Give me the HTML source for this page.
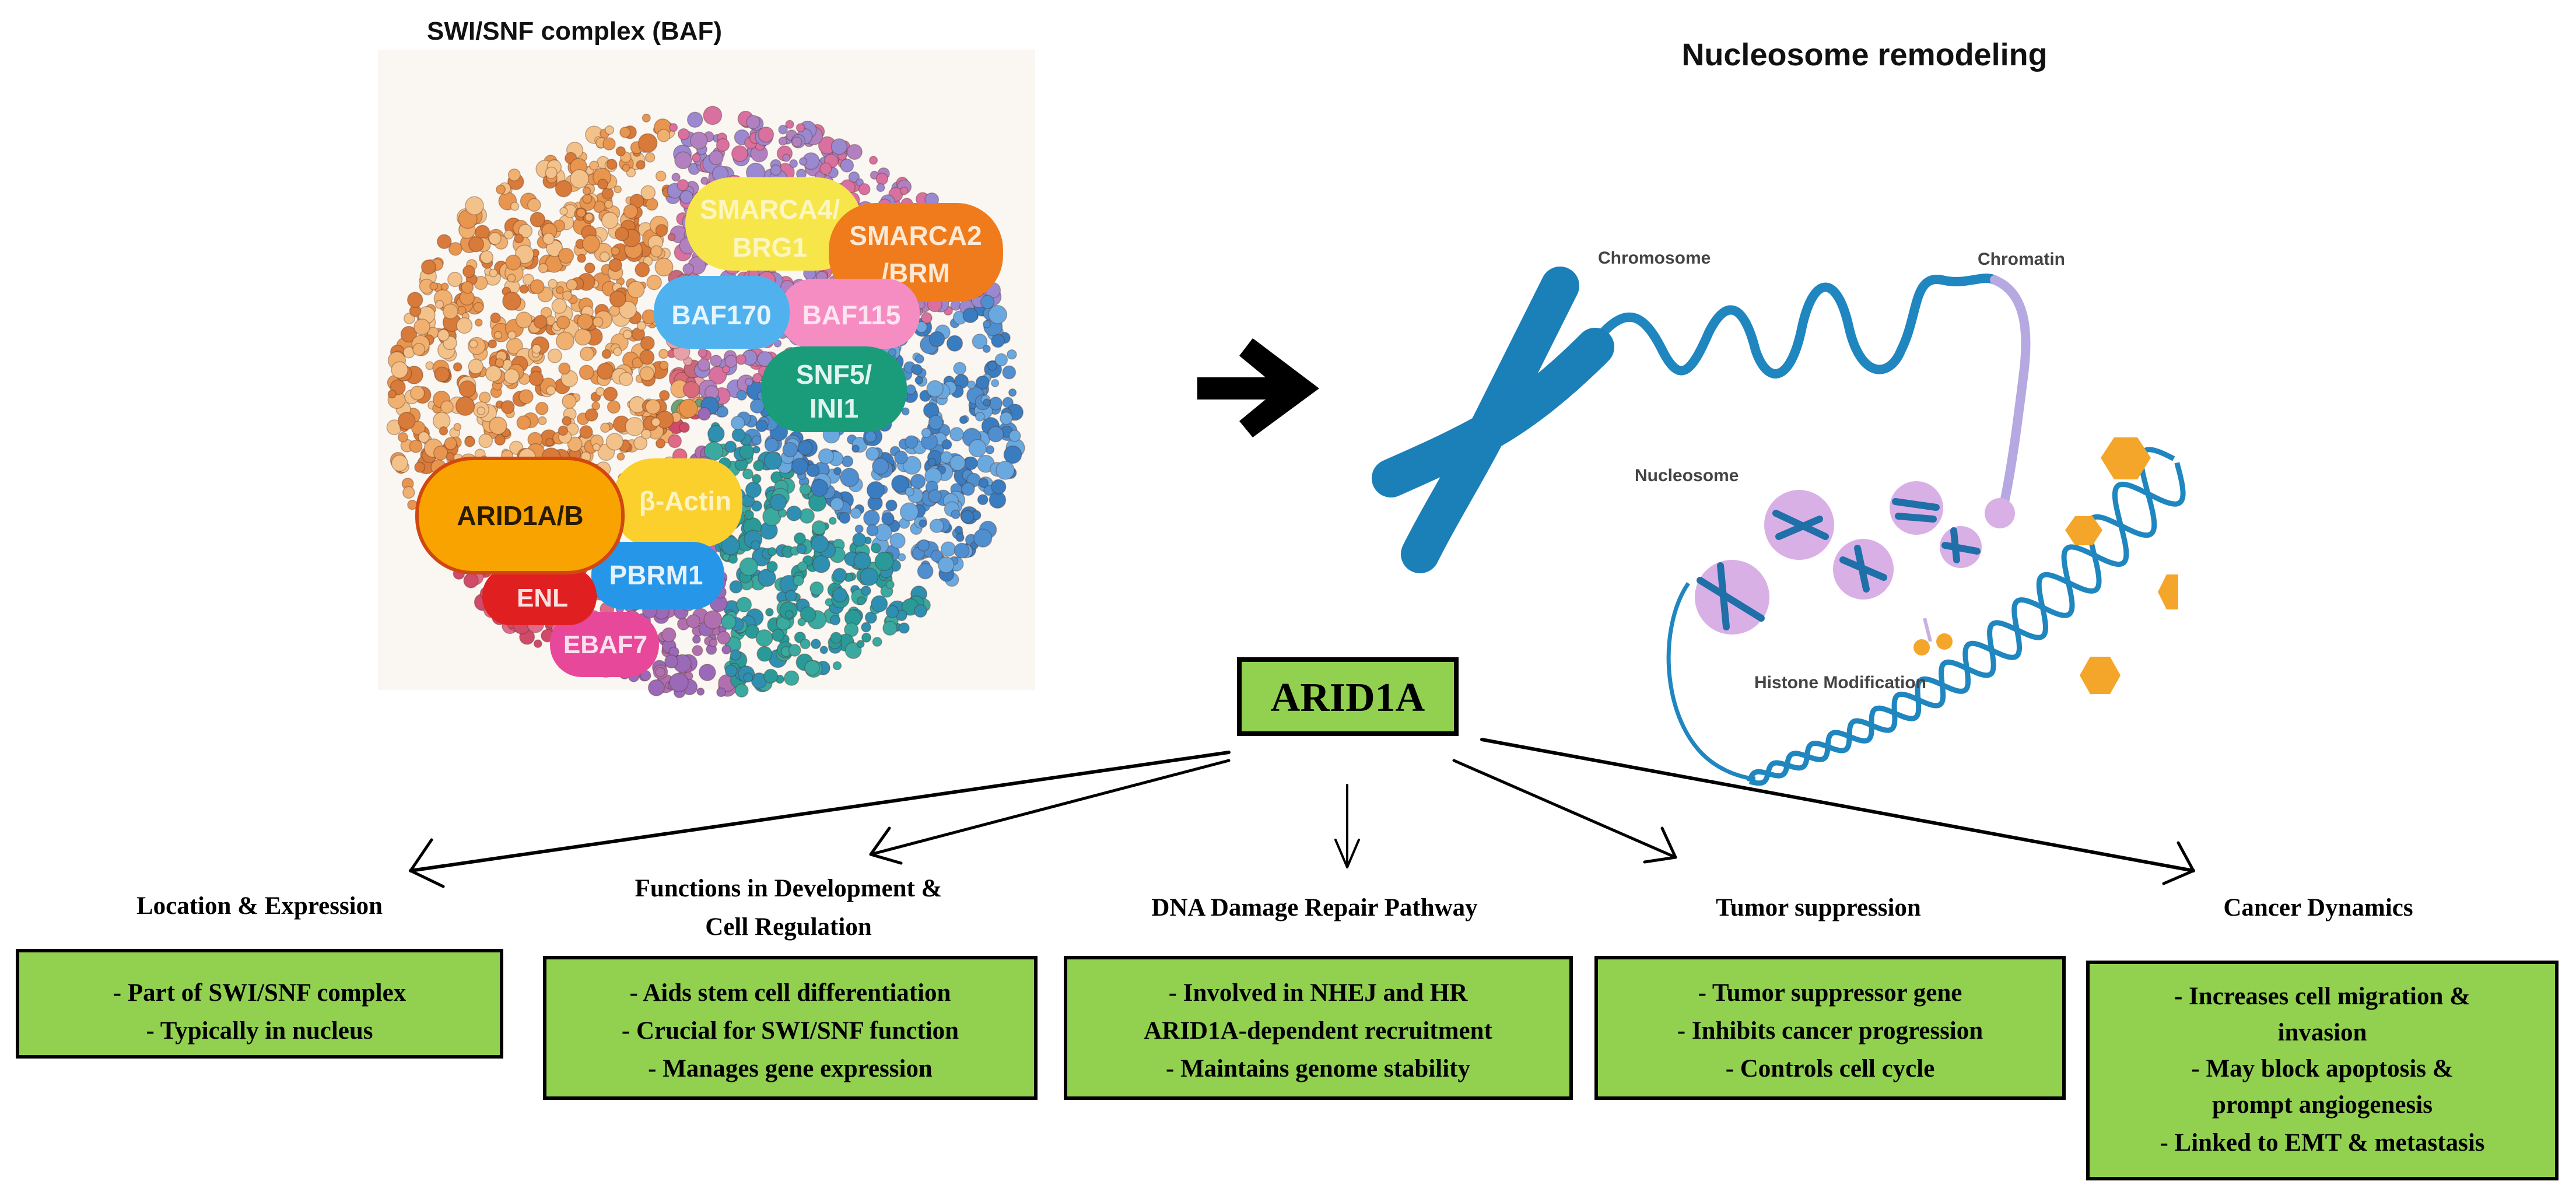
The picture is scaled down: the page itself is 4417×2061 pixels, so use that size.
<!DOCTYPE html>
<html><head><meta charset="utf-8">
<style>
html,body{margin:0;padding:0;background:#fff;}
body{width:4417px;height:2061px;position:relative;overflow:hidden;}
svg{position:absolute;left:0;top:0;}
</style></head>
<body>
<svg id="s" width="4417" height="2061" viewBox="0 0 4417 2061" xmlns="http://www.w3.org/2000/svg">
<rect x="648" y="85" width="1127" height="1098" fill="#faf7f3"/>
<g id="blob"></g>

<g font-family="Liberation Sans, sans-serif" font-weight="bold" text-anchor="middle">
<rect x="1175" y="304" width="304" height="160" rx="80" fill="#f7e64a"/>
<text x="1320" y="375" font-size="46" fill="#fdf6c0">SMARCA4/</text>
<text x="1320" y="440" font-size="46" fill="#fdf6c0">BRG1</text>
<rect x="1421" y="348" width="299" height="170" rx="80" fill="#ef7b1c"/>
<text x="1570" y="420" font-size="46" fill="#fde8d4">SMARCA2</text>
<text x="1570" y="484" font-size="46" fill="#fde8d4">/BRM</text>
<rect x="1336" y="478" width="241" height="120" rx="58" fill="#f58dc2"/>
<text x="1460" y="556" font-size="46" fill="#fde4f0">BAF115</text>
<rect x="1121" y="473" width="233" height="125" rx="60" fill="#4fb2ee"/>
<text x="1237" y="556" font-size="46" fill="#e6f4fd">BAF170</text>
<rect x="1305" y="594" width="250" height="147" rx="70" fill="#1a9b7a"/>
<text x="1430" y="658" font-size="46" fill="#e0f4ee">SNF5/</text>
<text x="1430" y="716" font-size="46" fill="#e0f4ee">INI1</text>
<rect x="1050" y="786" width="223" height="152" rx="70" fill="#fbd02c"/>
<text x="1175" y="875" font-size="46" fill="#fff3c0">β-Actin</text>
<rect x="1014" y="929" width="228" height="116" rx="55" fill="#2696e8"/>
<text x="1125" y="1002" font-size="46" fill="#e4f2fd">PBRM1</text>
<rect x="943" y="1049" width="187" height="112" rx="55" fill="#e8489a"/>
<text x="1038" y="1120" font-size="44" fill="#fde0ee">EBAF7</text>
<rect x="827" y="973" width="196" height="99" rx="48" fill="#e02020"/>
<text x="930" y="1040" font-size="44" fill="#fde0e0">ENL</text>
<rect x="715" y="786" width="353" height="196" rx="95" fill="#f8a300" stroke="#d04810" stroke-width="6"/>
<text x="892" y="900" font-size="46" fill="#2a1a00">ARID1A/B</text>
</g>
<text x="985" y="68" font-family="Liberation Sans, sans-serif" font-weight="bold" font-size="44" text-anchor="middle" fill="#111">SWI/SNF complex (BAF)</text>

<polygon points="2053,647 2170,647 2125,610 2148,580 2262,666 2148,750 2125,722 2170,685 2053,685" fill="#000"/>

<text x="3197" y="112" font-family="Liberation Sans, sans-serif" font-weight="bold" font-size="54" text-anchor="middle" fill="#111">Nucleosome remodeling</text>
<g fill="none" stroke-linecap="round">
<path d="M2740,580 C2790,520 2820,540 2850,600 C2880,660 2900,640 2930,570 C2960,510 2990,520 3010,600 C3030,660 3070,660 3090,560 C3110,470 3150,470 3170,560 C3190,650 3240,650 3260,600 C3290,540 3280,470 3330,480 C3370,490 3400,470 3420,480" stroke="#1f86bf" stroke-width="16"/>
<path d="M3420,480 C3470,500 3480,560 3470,640 C3460,720 3450,800 3435,870" stroke="#b6a8e0" stroke-width="16"/>
<path d="M2675,490 C2620,600 2580,680 2550,740 C2520,800 2470,880 2435,950" stroke="#1b7fb8" stroke-width="66"/>
<path d="M2735,595 C2680,650 2620,700 2560,735 C2500,770 2430,800 2385,820" stroke="#1b7fb8" stroke-width="66"/>
</g>
<g fill="#d9b0e6">
<circle cx="2970" cy="1024" r="64"/><circle cx="3085" cy="900" r="60"/><circle cx="3195" cy="976" r="52"/>
<circle cx="3286" cy="871" r="46"/><circle cx="3362" cy="938" r="36"/><circle cx="3429" cy="880" r="26"/>
</g>
<g stroke="#1f6fa8" stroke-width="12" fill="none" stroke-linecap="round">
<path d="M2915,995 L3020,1060 M2950,970 L2960,1075 M3045,880 L3130,920 M3050,920 L3120,890 M3160,960 L3230,990 M3185,940 L3200,1010 M3250,860 L3320,870 M3255,885 L3315,890 M3335,935 L3390,945 M3350,910 L3355,960"/>
</g>
<path d="M2895,1000 C2840,1080 2850,1250 2940,1310 C2970,1330 3000,1335 3010,1335" stroke="#1f86bf" stroke-width="7" fill="none"/>
<g id="helix" fill="none" stroke="#1f86bf" stroke-width="9"></g>
<path d="M3300,1060 L3310,1100" stroke="#c9b0e0" stroke-width="6"/>
<g fill="#f4a62a">
<circle cx="3295" cy="1110" r="14"/><circle cx="3334" cy="1100" r="14"/>
<polygon points="3625,750 3665,750 3688,785 3665,822 3625,822 3602,785"/>
<polygon points="3558,885 3588,885 3605,909 3588,935 3558,935 3541,909"/>
<polygon points="3584,1126 3618,1126 3636,1158 3618,1190 3584,1190 3566,1158"/>
<polygon points="3715,985 3735,985 3735,1045 3715,1045 3700,1015"/>
</g>
<g font-family="Liberation Sans, sans-serif" font-weight="bold" font-size="30" fill="#444">
<text x="2740" y="452">Chromosome</text>
<text x="3391" y="454">Chromatin</text>
<text x="2803" y="825">Nucleosome</text>
<text x="3008" y="1180">Histone Modification</text>
</g>

<rect x="2125" y="1131" width="372" height="127" fill="#92d050" stroke="#000" stroke-width="8"/>
<text x="2311" y="1219" font-family="Liberation Serif, serif" font-weight="bold" font-size="70" text-anchor="middle">ARID1A</text>

<g stroke="#000" fill="none" stroke-linecap="round" stroke-linejoin="round">
<path d="M2107,1290 L704,1493" stroke-width="6"/>
<path d="M740,1440 L704,1493 L760,1520" stroke-width="5"/>
<path d="M2107,1304 L1493,1465" stroke-width="5"/>
<path d="M1525,1420 L1493,1465 L1545,1480" stroke-width="5"/>
<path d="M2310,1346 L2310,1487" stroke-width="4"/>
<path d="M2290,1440 L2310,1487 L2330,1440" stroke-width="4"/>
<path d="M2493,1304 L2873,1470" stroke-width="5"/>
<path d="M2850,1420 L2873,1470 L2820,1478" stroke-width="5"/>
<path d="M2541,1268 L3761,1493" stroke-width="6"/>
<path d="M3735,1445 L3761,1493 L3710,1515" stroke-width="5"/>
</g>

<g font-family="Liberation Serif, serif" font-weight="bold" font-size="43" text-anchor="middle" fill="#000">
<text x="445" y="1567">Location &amp; Expression</text>
<text x="1352" y="1537">Functions in Development &amp;</text>
<text x="1352" y="1603">Cell Regulation</text>
<text x="2254" y="1570">DNA Damage Repair Pathway</text>
<text x="3118" y="1570">Tumor suppression</text>
<text x="3975" y="1570">Cancer Dynamics</text>
</g>
<g fill="#92d050" stroke="#000" stroke-width="6">
<rect x="30" y="1630" width="830" height="182"/>
<rect x="934" y="1642" width="842" height="241"/>
<rect x="1827" y="1642" width="867" height="241"/>
<rect x="2737" y="1642" width="802" height="241"/>
<rect x="3580" y="1650" width="804" height="371"/>
</g>
<g font-family="Liberation Serif, serif" font-weight="bold" font-size="43" text-anchor="middle" fill="#000">
<text x="445" y="1716">- Part of SWI/SNF complex</text>
<text x="445" y="1781">- Typically in nucleus</text>
<text x="1355" y="1716">- Aids stem cell differentiation</text>
<text x="1355" y="1781">- Crucial for SWI/SNF function</text>
<text x="1355" y="1846">- Manages gene expression</text>
<text x="2260" y="1716">- Involved in NHEJ and HR</text>
<text x="2260" y="1781">ARID1A-dependent recruitment</text>
<text x="2260" y="1846">- Maintains genome stability</text>
<text x="3138" y="1716">- Tumor suppressor gene</text>
<text x="3138" y="1781">- Inhibits cancer progression</text>
<text x="3138" y="1846">- Controls cell cycle</text>
<text x="3982" y="1722">- Increases cell migration &amp;</text>
<text x="3982" y="1784">invasion</text>
<text x="3982" y="1846">- May block apoptosis &amp;</text>
<text x="3982" y="1908">prompt angiogenesis</text>
<text x="3982" y="1973">- Linked to EMT &amp; metastasis</text>
</g>
</svg>
<script>
(function(){
var ns='http://www.w3.org/2000/svg';
var g=document.getElementById('blob');
var seed=7;function r(){seed=(seed*16807)%2147483647;return seed/2147483647;}
var cx=1210,cy=690;
function col(x,y){var a=Math.atan2(y-cy,x-cx)*180/Math.PI;
 if(x<1150&&y<900) return ['#e89550','#f0b070','#d87a3a','#f3c28a'][Math.floor(r()*4)];
 if(a>-150&&a<-100) return ['#d96a7a','#e7a0a8','#c8677d'][Math.floor(r()*3)];
 if(a>=-100&&a<-20) return ['#b080c0','#d870a0','#9a88d0'][Math.floor(r()*3)];
 if(a>=-20&&a<40) return ['#4f8fd0','#6aa8e0','#3a7cc0'][Math.floor(r()*3)];
 if(a>=40&&a<85) return ['#2a9a98','#3aa9a0','#2f8fb0'][Math.floor(r()*3)];
 if(a>=85&&a<115) return ['#9a6ab8','#b070b0'][Math.floor(r()*2)];
 if(a>=115&&a<150) return ['#d04a6a','#e06a8a'][Math.floor(r()*2)];
 if(a>=150||a<-150) return ['#e8954a','#6aa07a','#f0b070'][Math.floor(r()*3)];
 return '#e8954a';}
for(var i=0;i<2200;i++){var t=r()*Math.PI*2;var rr=Math.sqrt(r());var x=cx+Math.cos(t)*rr*540;var y=cy+Math.sin(t)*rr*500;
 var c=document.createElementNS(ns,'circle');c.setAttribute('cx',x.toFixed(1));c.setAttribute('cy',y.toFixed(1));
 c.setAttribute('r',(6+r()*10).toFixed(1));c.setAttribute('fill',col(x,y));c.setAttribute('stroke','rgba(80,40,20,0.35)');c.setAttribute('stroke-width','1.5');g.appendChild(c);}
var h=document.getElementById('helix');
var x0=3000,y0=1340,x1=3730,y1=790;var dx=x1-x0,dy=y1-y0,L=Math.hypot(dx,dy);var nx=-dy/L,ny=dx/L;
for(var k=0;k<2;k++){var d='';var ph=k*Math.PI;for(var j=0;j<=800;j++){var s=j/800;var amp=10+45*s;
 if(j>0){ph+=2*Math.PI*(L/800)/(65+85*s);}
 var bow=70*Math.sin(Math.PI*s);
 var o=amp*Math.sin(ph)+bow;var px=x0+dx*s+nx*o,py=y0+dy*s+ny*o;d+=(j?'L':'M')+px.toFixed(1)+','+py.toFixed(1);}
 var p=document.createElementNS(ns,'path');p.setAttribute('d',d);h.appendChild(p);}
})();
</script>
</body></html>
